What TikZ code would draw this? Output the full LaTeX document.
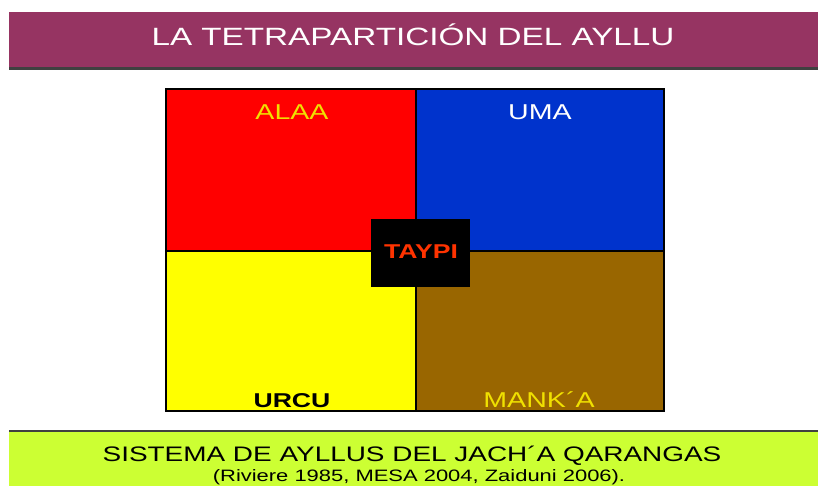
\documentclass[tikz,border=0pt]{standalone}
\usepackage{fontspec}
\setmainfont[FakeStretch=1.33]{Liberation Sans}
\definecolor{titlebg}{HTML}{963462}
\definecolor{footbg}{HTML}{CCFF33}
\definecolor{qred}{HTML}{FF0000}
\definecolor{qblue}{HTML}{0033CC}
\definecolor{qyellow}{HTML}{FFFF00}
\definecolor{qbrown}{HTML}{996600}
\definecolor{labyel}{HTML}{F0E000}
\definecolor{taypired}{HTML}{FF3300}
\tikzset{
  quad/.style={draw=black, line width=1.2pt},
  lab/.style={inner sep=0pt, anchor=base, font=\fontsize{21.5}{21.5}\selectfont},
}
\begin{document}
\begin{tikzpicture}[x=1pt,y=-1pt]
\useasboundingbox (0,0) rectangle (818,486);
\fill[white] (0,0) rectangle (818,486);
% title bar
\fill[titlebg] (9,12) rectangle (818,68);
\fill[black!75] (9,67.5) rectangle (818,70);
\node[inner sep=0pt, anchor=base, text=white, font=\fontsize{25}{25}\selectfont] (title) at (413,46) {LA TETRAPARTICIÓN DEL AYLLU};
% quadrants
\draw[quad, fill=qred] (166,89) rectangle (416,251);
\draw[quad, fill=qblue] (416,89) rectangle (664,251);
\draw[quad, fill=qyellow] (166,251) rectangle (416,411);
\draw[quad, fill=qbrown] (416,251) rectangle (664,411);
\node[lab, text=labyel] (alaa) at (292,120) {ALAA};
\node[lab, text=white] (uma) at (540,120) {UMA};
\node[lab, text=black, font=\bfseries\fontsize{20}{20}\selectfont] (urcu) at (292,407) {URCU};
\node[lab, text=labyel] (manka) at (539,407) {MANK´A};
% taypi
\fill[black] (371,219) rectangle (470,287);
\node[lab, text=taypired, font=\bfseries\fontsize{20}{20}\selectfont] (taypi) at (421,258) {TAYPI};
% footer
\fill[footbg] (9,431) rectangle (818,486);
\fill[black!75] (9,429.5) rectangle (818,432);
\node[inner sep=0pt, anchor=base, font=\fontsize{21}{21}\selectfont] (foot1) at (412,461) {SISTEMA DE AYLLUS DEL JACH´A QARANGAS};
\node[inner sep=0pt, anchor=base, font=\fontsize{16.5}{16.5}\selectfont] (foot2) at (419,481.5) {(Riviere 1985, MESA 2004, Zaiduni 2006).};
\end{tikzpicture}
\end{document}
